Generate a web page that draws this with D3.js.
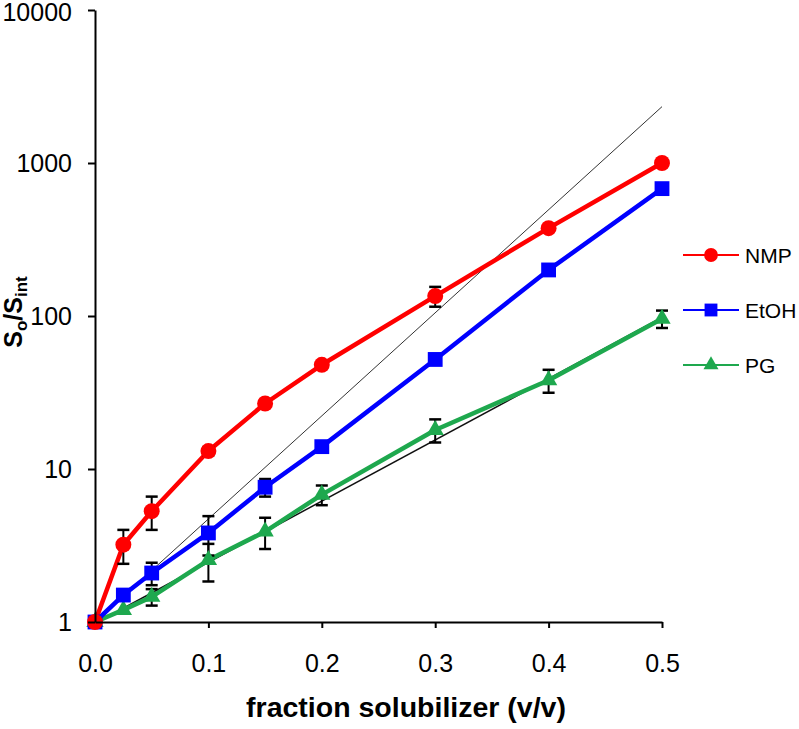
<!DOCTYPE html>
<html>
<head>
<meta charset="utf-8">
<script src="https://cdn.jsdelivr.net/npm/d3@7"></script>
<style>
  body { margin: 0; background: #fff; }
  svg { font-family: Arial, "Liberation Sans", sans-serif; }
</style>
</head>
<body>
<svg id="chart" width="799" height="729"></svg>
<script>
// data
const fractions = [0, 0.025, 0.05, 0.1, 0.15, 0.2, 0.3, 0.4, 0.5];
const nmpValues = [1, 3.2, 5.3, 13.1, 26.8, 48, 135, 375, 1000];
const nmpErrors = [0, 0.8, 1.3, 0.8, 0, 0, 20, 0, 0];
const etohValues = [1, 1.5, 2.09, 3.82, 7.6, 14, 52, 200, 680];
const etohErrors = [0, 0, 0.35, 1.1, 1.0, 0, 0, 0, 0];
const pgValues = [1, 1.2, 1.46, 2.54, 3.9, 6.8, 18, 38, 96];
const pgErrors = [0, 0, 0.18, 0.7, 0.9, 1.0, 3.1, 6.5, 12.5];

// thin reference lines (log-linear), start and end
const fitX = [0, 0.5];
const fitSteep = [1, 2335];
const fitShallow = [1, 100];

const xTicks = [0, 0.1, 0.2, 0.3, 0.4, 0.5];
const yTicks = [1, 10, 100, 1000, 10000];
const seriesNames = ["NMP", "EtOH", "PG"];

const colors = { NMP: "#ff0000", EtOH: "#0000ff", PG: "#1ea84e" };

const svg = d3.select("#chart");

const x = d3.scaleLinear().domain([0, 0.5]).range([95, 662]);
const y = d3.scaleLog().domain([1, 10000]).range([622, 10]);

// reference lines
const fitLine = d3.line().x(d => x(d[0])).y(d => y(d[1]));
svg.append("path")
    .datum(d3.zip(fitX, fitSteep))
    .attr("fill", "none")
    .attr("stroke", "#333")
    .attr("stroke-width", 1)
    .attr("d", fitLine);
svg.append("path")
    .datum(d3.zip(fitX, fitShallow))
    .attr("fill", "none")
    .attr("stroke", "#111")
    .attr("stroke-width", 1.5)
    .attr("transform", "translate(0,1.5)")
    .attr("d", fitLine);

const series = [
  { name: "NMP", values: nmpValues, errors: nmpErrors, symbol: d3.symbolCircle, size: 200 },
  { name: "EtOH", values: etohValues, errors: etohErrors, symbol: d3.symbolSquare, size: 220 },
  { name: "PG", values: pgValues, errors: pgErrors, symbol: d3.symbolTriangle, size: 130 }
];

const line = d3.line()
    .x(d => x(d[0]))
    .y(d => y(d[1]));

// lines, drawn PG first so red ends on top
series.slice().reverse().forEach(s => {
  svg.append("path")
      .datum(d3.zip(fractions, s.values))
      .attr("fill", "none")
      .attr("stroke", colors[s.name])
      .attr("stroke-width", 4.5)
      .attr("stroke-linejoin", "round")
      .attr("d", line);
});

// error bars
series.forEach(s => {
  const pts = d3.zip(fractions, s.values, s.errors).filter(d => d[2] > 0);
  const g = svg.append("g").attr("stroke", "#000").attr("stroke-width", 2);
  pts.forEach(d => {
    const top = y(d[1] + d[2]);
    const bot = y(Math.max(d[1] - d[2], 1));
    const cx = x(d[0]);
    g.append("line").attr("x1", cx).attr("x2", cx).attr("y1", top).attr("y2", bot);
    g.append("line").attr("x1", cx - 6).attr("x2", cx + 6).attr("y1", top).attr("y2", top).attr("stroke-width", 2.5);
    g.append("line").attr("x1", cx - 6).attr("x2", cx + 6).attr("y1", bot).attr("y2", bot).attr("stroke-width", 2.5);
  });
});

// markers
series.slice().reverse().forEach(s => {
  svg.append("g").selectAll("path")
      .data(d3.zip(fractions, s.values))
      .join("path")
      .attr("transform", d => `translate(${x(d[0])},${y(d[1])})`)
      .attr("d", d3.symbol().type(s.symbol).size(s.size))
      .attr("fill", colors[s.name]);
});

// axes
const yAxis = svg.append("g")
    .attr("transform", "translate(95,0)")
    .call(d3.axisLeft(y).tickValues(yTicks).tickFormat(d3.format("d")).tickSize(7).tickSizeOuter(0).tickPadding(16));

const xAxis = svg.append("g")
    .attr("transform", "translate(0,622)")
    .call(d3.axisBottom(x).tickValues(xTicks).tickFormat(d3.format(".1f")).tickSize(6).tickSizeOuter(0).tickPadding(26));

[yAxis, xAxis].forEach(a => {
  a.select(".domain").attr("stroke-width", 2);
  a.selectAll(".tick line").attr("stroke-width", 2);
  a.selectAll("text").attr("font-size", 25).attr("font-family", "Arial, 'Liberation Sans', sans-serif").attr("fill", "#000");
});
yAxis.selectAll(".tick").filter(d => d === 10000).select("text").attr("dy", "0.40em");
xAxis.selectAll(".tick").filter(d => d === 0).select("line").remove();

// axis titles
svg.append("text")
    .attr("x", 406)
    .attr("y", 717)
    .attr("text-anchor", "middle")
    .attr("font-size", 28.5)
    .attr("font-weight", "bold")
    .text("fraction solubilizer (v/v)");

const yTitle = svg.append("text")
    .attr("transform", "translate(22,312) rotate(-90)")
    .attr("text-anchor", "middle")
    .attr("font-size", 25)
    .attr("font-weight", "bold");
yTitle.append("tspan").text("S");
yTitle.append("tspan").attr("font-size", 17).attr("dy", 5).text("o");
yTitle.append("tspan").attr("dy", -5).text("/S");
yTitle.append("tspan").attr("font-size", 17).attr("dy", 5).text("int");

// legend
const legendY = [255, 310, 365];
const legend = svg.append("g");
series.forEach((s, i) => {
  const ly = legendY[i];
  legend.append("line")
      .attr("x1", 683).attr("x2", 739).attr("y1", ly).attr("y2", ly)
      .attr("stroke", colors[s.name]).attr("stroke-width", 2);
  legend.append("path")
      .attr("transform", `translate(711,${ly})`)
      .attr("d", d3.symbol().type(s.symbol).size(s.size * 0.75))
      .attr("fill", colors[s.name]);
  legend.append("text")
      .attr("x", 745).attr("y", ly)
      .attr("dy", "0.36em")
      .attr("font-size", 21)
      .text(seriesNames[i]);
});
</script>
</body>
</html>
